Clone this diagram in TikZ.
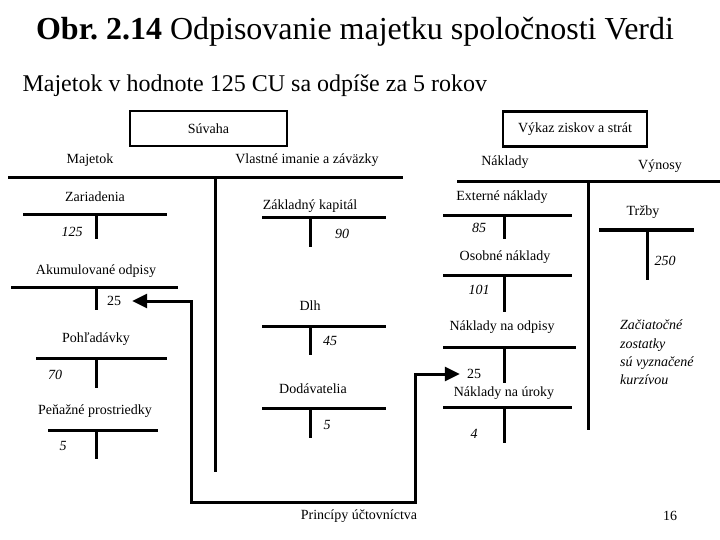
\documentclass[tikz,border=0pt]{standalone}
\usepackage{fontspec}
\setmainfont{Liberation Serif}
\usepackage{tikz}
\usetikzlibrary{arrows.meta}

\tikzset{
  tline/.style={line width=3pt},
  frame/.style={draw, line width=2.5pt, minimum height=35pt, font=\fontsize{14}{16}\selectfont},
  lbl/.style={inner sep=2pt, font=\fontsize{14}{16}\selectfont},
  val/.style={inner sep=2pt, font=\fontsize{14}{16}\selectfont\itshape},
  flow/.style={line width=3pt, {Triangle[length=15pt,width=14pt]}-{Triangle[length=15pt,width=14pt]}}
}

\begin{document}
\begin{tikzpicture}[x=1pt,y=-1pt]

\useasboundingbox (0,0) rectangle (720,540);

% Nadpis
\node (title) at (355,32) {\fontsize{32}{36}\selectfont\textbf{Obr.\ 2.14} Odpisovanie majetku spoločnosti Verdi};
\node[anchor=west] (sub) at (19,86) {\fontsize{24}{27}\selectfont Majetok v hodnote 125 CU sa odpíše za 5 rokov};

% Hlavičky
\node[frame, minimum width=157pt] (suvaha) at (208.5,128.5) {Súvaha};
\node[frame, minimum width=144pt] (vykaz) at (575,129) {Výkaz ziskov a strát};
\node[lbl] (maj) at (90,160) {Majetok};
\node[lbl] (vlast) at (307,160) {Vlastné imanie a záväzky};
\node[lbl] (nakl) at (505,162) {Náklady};
\node[lbl] (vyn) at (660,166) {Výnosy};

% Veľké T-účty
\draw[tline] (8,178) -- (403,178);
\draw[tline] (215,178) -- (215,472);
\draw[tline] (457,182) -- (720,182);
\draw[tline] (588,182) -- (588,430);

% Majetok
\node[lbl] (zar) at (95,197) {Zariadenia};
\draw[tline] (23,215) -- (167,215);
\draw[tline] (96,215) -- (96,239);
\node[val] (zarval) at (72,232) {125};

\node[lbl] (akum) at (96,271) {Akumulované odpisy};
\draw[tline] (11,287) -- (178,287);
\draw[tline] (96,287) -- (96,310);
\node[lbl] (akumval) at (114,301) {25};

\node[lbl] (pohl) at (96,339) {Pohľadávky};
\draw[tline] (36,358) -- (167,358);
\draw[tline] (96,358) -- (96,388);
\node[val] (pohlval) at (55,375) {70};

\node[lbl] (pen) at (95,411) {Peňažné prostriedky};
\draw[tline] (48,430) -- (158,430);
\draw[tline] (96,430) -- (96,459);
\node[val] (penval) at (63,446) {5};

% Vlastné imanie a záväzky
\node[lbl] (zakl) at (310,206) {Základný kapitál};
\draw[tline] (262,218) -- (386,218);
\draw[tline] (310,218) -- (310,247);
\node[val] (zaklval) at (342,234) {90};

\node[lbl] (dlh) at (310,306) {Dlh};
\draw[tline] (262,326) -- (386,326);
\draw[tline] (310,326) -- (310,355);
\node[val] (dlhval) at (330,341) {45};

\node[lbl] (dod) at (313,389) {Dodávatelia};
\draw[tline] (262,408) -- (386,408);
\draw[tline] (310,408) -- (310,438);
\node[val] (dodval) at (327,425) {5};

% Náklady
\node[lbl] (ext) at (502,197) {Externé náklady};
\draw[tline] (443,216) -- (572,216);
\draw[tline] (504,216) -- (504,239);
\node[val] (extval) at (479,228) {85};

\node[lbl] (oso) at (505,257) {Osobné náklady};
\draw[tline] (443,275) -- (572,275);
\draw[tline] (504,275) -- (504,312);
\node[val] (osoval) at (479,290) {101};

\node[lbl] (odp) at (502,327) {Náklady na odpisy};
\draw[tline] (443,347) -- (576,347);
\draw[tline] (504,347) -- (504,383);
\node[lbl] (odpval) at (474,374) {25};

\node[lbl] (uro) at (504,393) {Náklady na úroky};
\draw[tline] (443,407) -- (572,407);
\draw[tline] (504,407) -- (504,443);
\node[val] (uroval) at (474,434) {4};

% Výnosy
\node[lbl] (trz) at (643,212) {Tržby};
\draw[tline] (599,230) -- (694,230);
\draw[tline] (647,230) -- (647,280);
\node[val] (trzval) at (665,261) {250};

% Poznámka
\node[val, anchor=north west, align=left, font=\fontsize{14}{18.3}\selectfont\itshape] (pozn) at (618,318)
  {Začiatočné\\zostatky\\sú vyznačené\\kurzívou};

% Zaúčtovanie odpisu
\coordinate (lowL) at (191,502);
\coordinate (lowR) at (415,502);
\draw[flow] ([xshift=9pt]akumval.east) -| (lowL) -- (lowR) |- ([xshift=-5pt]odpval.west);

% Päta
\node[lbl] (foot) at (359,516) {Princípy účtovníctva};
\node[lbl] (page) at (670,516) {16};

\end{tikzpicture}
\end{document}
